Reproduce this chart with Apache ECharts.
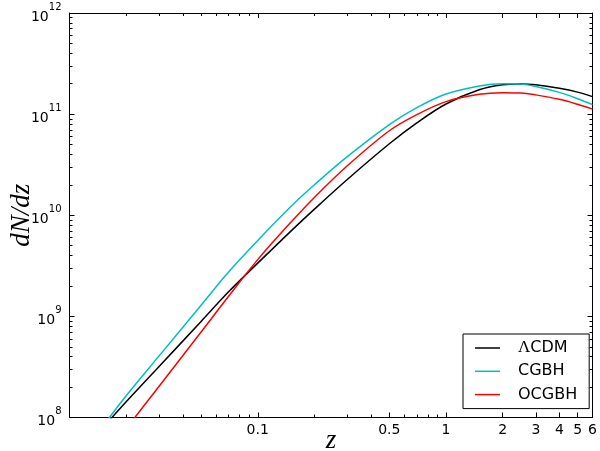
<!DOCTYPE html>
<html>
<head>
<meta charset="utf-8">
<script src="https://cdn.jsdelivr.net/npm/echarts@6/dist/echarts.min.js"></script>
<style>
  html, body { margin: 0; padding: 0; background: #fff; }
  #chart { width: 600px; height: 451px; }
</style>
</head>
<body>
<div id="chart"></div>
<script>
// redshift samples and dN/dz
const zValues = [0.016, 0.02, 0.03, 0.05, 0.07, 0.1, 0.15, 0.2, 0.3, 0.5, 0.7, 1, 1.5, 2, 2.5, 3, 4, 5, 6];
const lcdmValues = [9.0e7, 1.43e8, 3.21e8, 8.91e8, 1.75e9, 3.36e9, 6.97e9, 1.15e10, 2.27e10, 5.09e10, 8.20e10, 1.26e11, 1.74e11, 1.95e11, 1.99e11, 1.95e11, 1.80e11, 1.65e11, 1.49e11];
const cgbhValues = [9.55e7, 1.64e8, 4.09e8, 1.29e9, 2.75e9, 5.64e9, 1.22e10, 2.0e10, 3.82e10, 7.89e10, 1.16e11, 1.58e11, 1.90e11, 2.0e11, 1.98e11, 1.88e11, 1.64e11, 1.42e11, 1.24e11];
const ocgbhValues = [4.6e7, 7.76e7, 2.05e8, 7.0e8, 1.58e9, 3.64e9, 8.53e9, 1.50e10, 3.10e10, 6.85e10, 9.89e10, 1.33e11, 1.57e11, 1.63e11, 1.62e11, 1.55e11, 1.40e11, 1.25e11, 1.12e11];

const seriesNames = ['ΛCDM', 'CGBH', 'OCGBH'];
const seriesColors = ['#000000', '#00bfbf', '#ff0000'];

const xTickValues = [0.1, 0.5, 1, 2, 3, 4, 5, 6];
const xTickLabels = ['0.1', '0.5', '1', '2', '3', '4', '5', '6'];
const xMinorValues = [0.02, 0.03, 0.04, 0.05, 0.06, 0.07, 0.08, 0.09, 0.2, 0.3, 0.4, 0.6, 0.7, 0.8, 0.9];
const yTickExponents = [8, 9, 10, 11, 12];
const yMinorMultipliers = [2, 3, 4, 5, 6, 7, 8, 9];

const lg = Math.log10;
const xMin = lg(0.01), xMax = lg(6);
const xMajor = xTickValues.map(lg);
const xMinor = xMinorValues.map(lg);
const yMinor = [];
yTickExponents.slice(0, -1).forEach((e) => yMinorMultipliers.forEach((m) => yMinor.push(e + lg(m))));

const makeX = (pos, vals, len, withLabels) => ({
  type: 'value', position: pos, min: xMin, max: xMax,
  axisLine: { show: len > 3, onZero: false, lineStyle: { color: '#000', width: 1 } },
  axisTick: { show: true, inside: true, length: len, customValues: vals, lineStyle: { color: '#000', width: 1 } },
  axisLabel: withLabels ? {
    customValues: vals, margin: 6, color: '#000', fontFamily: 'DejaVu Sans', fontSize: 14,
    formatter: (v) => {
      const i = xMajor.findIndex((t) => Math.abs(t - v) < 1e-6);
      return i >= 0 ? xTickLabels[i] : '';
    }
  } : { show: false },
  splitLine: { show: false },
  name: withLabels ? 'z' : '',
  nameLocation: 'middle', nameGap: 10, nameMoveOverlap: false,
  nameTextStyle: { fontFamily: 'Liberation Serif', fontStyle: 'italic', fontSize: 27, color: '#000' }
});

const makeY = (pos, vals, len, withLabels) => ({
  type: 'value', position: pos, min: 8, max: 12,
  axisLine: { show: len > 3, onZero: false, lineStyle: { color: '#000', width: 1 } },
  axisTick: { show: true, inside: true, length: len, customValues: vals, lineStyle: { color: '#000', width: 1 } },
  axisLabel: withLabels ? {
    customValues: vals, margin: 8, color: '#000',
    formatter: (v) => `{b|10}{s|${Math.round(v)}}`,
    rich: {
      b: { fontFamily: 'DejaVu Sans', fontSize: 14, color: '#000', lineHeight: 22, verticalAlign: 'bottom' },
      s: { fontFamily: 'DejaVu Sans', fontSize: 10, color: '#000', lineHeight: 22, verticalAlign: 'top' }
    }
  } : { show: false },
  splitLine: { show: false },
  name: withLabels ? 'dN/dz' : '',
  nameLocation: 'middle', nameGap: 34, nameRotate: 90, nameMoveOverlap: false,
  nameTextStyle: { fontFamily: 'Liberation Serif', fontStyle: 'italic', fontSize: 27, color: '#000' }
});

const toPoints = (vals) => zValues.map((z, i) => [lg(z), lg(vals[i])]);
const allValues = [lcdmValues, cgbhValues, ocgbhValues];

const chart = echarts.init(document.getElementById('chart'), null, { renderer: 'canvas' });
chart.setOption({
  animation: false,
  backgroundColor: '#fff',
  grid: { left: 69.5, right: 7.5, top: 13, bottom: 33.5, containLabel: false, outerBoundsMode: 'none' },
  xAxis: [
    makeX('bottom', xMajor, 5, true),
    makeX('bottom', xMinor, 3, false),
    makeX('top', xMajor, 5, false),
    makeX('top', xMinor, 3, false)
  ],
  yAxis: [
    makeY('left', yTickExponents, 5, true),
    makeY('left', yMinor, 3, false),
    makeY('right', yTickExponents, 5, false),
    makeY('right', yMinor, 3, false)
  ],
  legend: {
    data: seriesNames.map((name) => ({ name, icon: 'rect' })),
    orient: 'vertical',
    left: 463, top: 334,
    padding: [5, 12, 5, 12],
    itemWidth: 25, itemHeight: 1.5, itemGap: 5.3,
    backgroundColor: '#fff', borderColor: '#000', borderWidth: 1, borderRadius: 0,
    formatter: (name) => name === 'ΛCDM' ? '{l|Λ}CDM' : name,
    textStyle: {
      fontFamily: 'DejaVu Sans', fontSize: 16, lineHeight: 18, color: '#000', padding: [0, 0, 0, 13],
      rich: { l: { fontFamily: 'Liberation Serif', fontSize: 17, lineHeight: 18, color: '#000' } }
    }
  },
  series: seriesNames.map((name, k) => ({
    name, type: 'line', xAxisIndex: 0, yAxisIndex: 0,
    data: toPoints(allValues[k]),
    symbol: 'none', showSymbol: false,
    smooth: 0.35, clip: true,
    color: seriesColors[k],
    itemStyle: { color: seriesColors[k] },
    lineStyle: { color: seriesColors[k], width: 1.5 }
  }))
});
</script>
</body>
</html>
